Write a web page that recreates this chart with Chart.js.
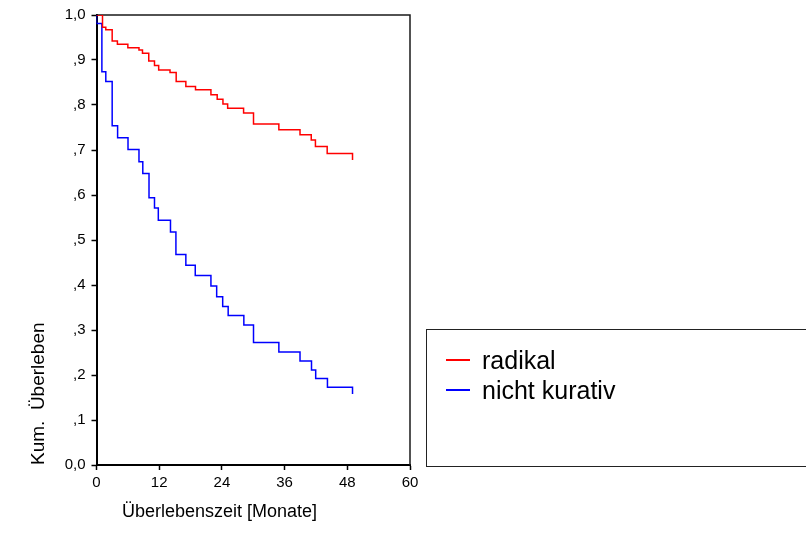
<!DOCTYPE html>
<html>
<head>
<meta charset="utf-8">
<script src="https://cdn.jsdelivr.net/npm/chart.js@4"></script>
<style>
  body { margin: 0; background: #fff; }
  #wrap { position: relative; width: 806px; height: 546px; overflow: hidden; font-family: Arial, 'Liberation Sans', sans-serif; }
  #xtitel { position: absolute; left: 122px; top: 501px; font-size: 18px; color: #000; white-space: nowrap; }
  #legende { position: absolute; left: 426px; top: 329px; width: 400px; height: 138px; border: 1.5px solid #222; box-sizing: border-box; padding-top: 15px; }
  .zeile { display: flex; align-items: center; height: 30px; font-size: 25px; color: #000; }
  .strich { width: 24px; height: 0; border-top: 2px solid; margin-left: 19px; margin-right: 12px; }
</style>
</head>
<body>
<div id="wrap">
  <canvas id="km" width="806" height="546"></canvas>
  <div id="xtitel">Überlebenszeit [Monate]</div>
  <div id="legende"></div>
</div>
<script>
// Achsen
const xTicks = [0, 12, 24, 36, 48, 60];
const yTickLabels = ['0,0', ',1', ',2', ',3', ',4', ',5', ',6', ',7', ',8', ',9', '1,0'];
const seriesNames = ['radikal', 'nicht kurativ'];
const seriesColors = ['#ff0000', '#0000ff'];

// Kaplan-Meier Stufen (Monate, kum. Überleben nach dem Ereignis)
const radikalMonate = [0, 1.15, 1.78, 3.0, 4.0, 6.0, 8.13, 8.8, 10.0, 11.1, 11.9, 14.07, 15.25, 17.1, 18.95, 21.9, 23.1, 24.2, 25.1, 28.15, 30.05, 34.9, 38.95, 41.1, 41.9, 44.15, 49.0];
const radikalUeberleben = [1.0, 0.973, 0.967, 0.942, 0.935, 0.927, 0.922, 0.915, 0.898, 0.888, 0.878, 0.872, 0.852, 0.841, 0.834, 0.823, 0.813, 0.802, 0.793, 0.782, 0.758, 0.745, 0.734, 0.722, 0.708, 0.692, 0.678];

const nichtKurativMonate = [0, 0, 1.03, 1.78, 3.0, 4.04, 6.03, 8.13, 8.86, 10.05, 11.1, 11.83, 14.16, 15.2, 17.1, 18.9, 21.9, 23.0, 24.15, 25.2, 28.2, 30.05, 34.9, 38.95, 41.15, 41.95, 44.2, 49.0];
const nichtKurativUeberleben = [1.0, 0.981, 0.874, 0.852, 0.754, 0.727, 0.701, 0.674, 0.648, 0.594, 0.571, 0.544, 0.518, 0.468, 0.444, 0.421, 0.398, 0.374, 0.352, 0.332, 0.311, 0.272, 0.251, 0.231, 0.211, 0.192, 0.173, 0.158];

function punkte(monate, werte) {
  return monate.map((m, i) => ({ x: m, y: werte[i] }));
}

Chart.defaults.font.family = "Arial, 'Liberation Sans', sans-serif";
Chart.defaults.color = '#000';

// oberer und rechter Rahmen
const rahmen = {
  id: 'rahmen',
  beforeDatasetsDraw(chart) {
    const { ctx, chartArea: a } = chart;
    ctx.save();
    ctx.strokeStyle = '#1a1a1a';
    ctx.lineWidth = 1.5;
    ctx.beginPath();
    ctx.moveTo(a.left, a.top);
    ctx.lineTo(a.right, a.top);
    ctx.lineTo(a.right, a.bottom);
    ctx.stroke();
    ctx.restore();
  }
};

const chart = new Chart(document.getElementById('km'), {
  type: 'line',
  data: {
    datasets: [
      { label: seriesNames[0], data: punkte(radikalMonate, radikalUeberleben), borderColor: seriesColors[0] },
      { label: seriesNames[1], data: punkte(nichtKurativMonate, nichtKurativUeberleben), borderColor: seriesColors[1] }
    ]
  },
  options: {
    responsive: false,
    animation: false,
    layout: { padding: { left: 0, top: 15, right: 396, bottom: 0 } },
    elements: {
      line: { borderWidth: 1.5, stepped: 'before', fill: false, tension: 0 },
      point: { radius: 0 }
    },
    plugins: { legend: { display: false }, tooltip: { enabled: false } },
    scales: {
      x: {
        type: 'linear',
        min: 0, max: 60,
        afterBuildTicks: s => { s.ticks = xTicks.map(v => ({ value: v })); },
        afterFit: s => { s.height = 81; s.paddingLeft = 0; s.paddingRight = 0; },
        ticks: { font: { size: 15 }, padding: 4, maxRotation: 0 },
        grid: { drawOnChartArea: false, tickLength: 5, tickColor: '#000', tickWidth: 1.5 },
        border: { color: '#000', width: 2 }
      },
      y: {
        min: 0, max: 1,
        ticks: { stepSize: 0.1, font: { size: 15 }, padding: 6, callback: (v, i) => yTickLabels[i] },
        afterFit: s => { s.width = 96.5; s.paddingTop = 0; s.paddingBottom = 0; },
        grid: { drawOnChartArea: false, tickLength: 5, tickColor: '#000', tickWidth: 1.5 },
        border: { color: '#000', width: 2 },
        title: { display: true, text: 'Kum.  Überleben', align: 'start', font: { size: 19 }, padding: { top: 27, bottom: 0 } }
      }
    }
  },
  plugins: [rahmen]
});

// Legende aus den Datensätzen
const legende = document.getElementById('legende');
chart.data.datasets.forEach(ds => {
  const z = document.createElement('div');
  z.className = 'zeile';
  z.innerHTML = `<span class="strich" style="border-color:${ds.borderColor}"></span><span>${ds.label}</span>`;
  legende.appendChild(z);
});
</script>
</body>
</html>
